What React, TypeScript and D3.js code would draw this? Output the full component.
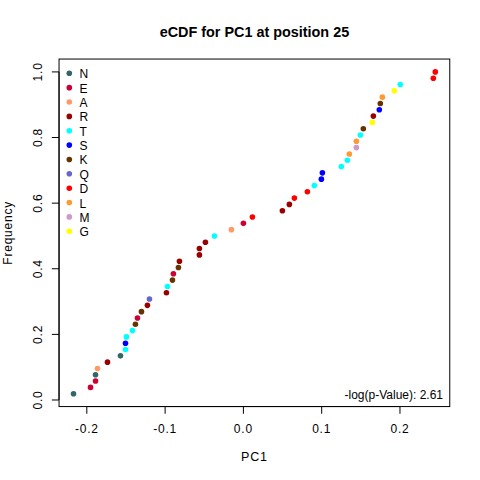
import React from 'react';
import * as d3 from 'd3';

// residues and colours used in the legend
const aaLetters = ['N', 'E', 'A', 'R', 'T', 'S', 'K', 'Q', 'D', 'L', 'M', 'G'];
const aaColors = ['#336666', '#CC0033', '#FF9966', '#990000', '#00FFFF', '#0000FF',
    '#663300', '#6666CC', '#FF0000', '#FF9933', '#CC99CC', '#FFFF00'];

// sorted PC1 values and the residue of each sample
const pcValues = [
    -0.217, -0.1953, -0.1889, -0.1889, -0.1864, -0.1736, -0.157, -0.1506, -0.1506, -0.1494,
    -0.1417, -0.1379, -0.1353, -0.1302, -0.1226, -0.12, -0.0983, -0.097, -0.0906, -0.0894,
    -0.083, -0.0817, -0.0562, -0.0562, -0.0485, -0.037, -0.0153, 0.0, 0.0115, 0.0498,
    0.0587, 0.0651, 0.0817, 0.0906, 0.0996, 0.1009, 0.1251, 0.1328, 0.1353, 0.1443,
    0.1443, 0.1494, 0.1532, 0.1647, 0.166, 0.1736, 0.1749, 0.1775, 0.1928, 0.2004,
    0.2426, 0.2451,
];
const residues = [
    'N', 'E', 'E', 'N', 'A', 'R', 'N', 'T', 'S', 'T',
    'T', 'K', 'E', 'K', 'R', 'Q', 'R', 'T', 'K', 'E',
    'K', 'R', 'R', 'R', 'R', 'T', 'A', 'E', 'D', 'R',
    'R', 'D', 'D', 'T', 'S', 'S', 'T', 'T', 'L', 'M',
    'L', 'T', 'K', 'G', 'R', 'S', 'K', 'L', 'G', 'T',
    'D', 'D',
];

const xTicks = [-0.2, -0.1, 0, 0.1, 0.2];
const xTickLabels = ['-0.2', '-0.1', '0.0', '0.1', '0.2'];
const yTicks = [0, 0.2, 0.4, 0.6, 0.8, 1.0];
const yTickLabels = ['0.0', '0.2', '0.4', '0.6', '0.8', '1.0'];

const pLabel = '-log(p-Value): 2.61';

const App: React.FC = () => {
    const width = 480;
    const height = 480;
    const margin = { top: 59.04, right: 30.24, bottom: 73.44, left: 59.04 };
    const font = '"Liberation Sans", Arial, sans-serif';

    const n = pcValues.length;
    const freq = pcValues.map((_, i) => (i + 1) / n);

    // R style 4% padding on both axes
    const pad = (lo: number, hi: number): [number, number] => {
        const r = hi - lo;
        return [lo - 0.04 * r, hi + 0.04 * r];
    };
    const xExt = d3.extent(pcValues) as [number, number];
    const yExt = d3.extent(freq) as [number, number];

    const x = d3.scaleLinear().domain(pad(xExt[0], xExt[1]))
        .range([margin.left, width - margin.right]);
    const y = d3.scaleLinear().domain(pad(yExt[0], yExt[1]))
        .range([height - margin.bottom, margin.top]);

    const color = d3.scaleOrdinal<string, string>().domain(aaLetters).range(aaColors);

    const left = margin.left;
    const right = width - margin.right;
    const top = margin.top;
    const bottom = height - margin.bottom;
    const tick = 7.2;
    const ls = 0.8; // windows png text runs a bit wider

    return (
        <svg width={width} height={height} style={{ position: 'absolute', left: 0, top: 0, background: '#fff' }}
            fontFamily={font}>
            <rect x={0} y={0} width={width} height={height} fill="#fff" />

            <text x={(left + right) / 2} y={37} textAnchor="middle" fontSize={14.4} fontWeight="bold">
                eCDF for PC1 at position 25
            </text>

            {/* x axis */}
            <line x1={x(xTicks[0])} x2={x(xTicks[xTicks.length - 1])} y1={bottom} y2={bottom} stroke="#000" />
            {xTicks.map((t, i) => (
                <g key={'xt' + i}>
                    <line x1={x(t)} x2={x(t)} y1={bottom} y2={bottom + tick} stroke="#000" />
                    <text x={x(t)} y={433} textAnchor="middle" fontSize={12} letterSpacing={ls}>{xTickLabels[i]}</text>
                </g>
            ))}
            <text x={(left + right) / 2} y={461} textAnchor="middle" fontSize={12.5} letterSpacing={ls}>PC1</text>

            {/* y axis */}
            <line x1={left} x2={left} y1={y(yTicks[0])} y2={y(yTicks[yTicks.length - 1])} stroke="#000" />
            {yTicks.map((t, i) => (
                <g key={'yt' + i}>
                    <line x1={left - tick} x2={left} y1={y(t)} y2={y(t)} stroke="#000" />
                    <text transform={`translate(42,${y(t)}) rotate(-90)`} textAnchor="middle" fontSize={12}
                        letterSpacing={ls}>
                        {yTickLabels[i]}
                    </text>
                </g>
            ))}
            <text transform={`translate(12,${(top + bottom) / 2}) rotate(-90)`} textAnchor="middle" fontSize={12}
                letterSpacing={ls}>
                Frequency
            </text>

            <rect x={left} y={top} width={right - left} height={bottom - top} fill="none" stroke="#000" />

            {/* points */}
            {pcValues.map((v, i) => (
                <circle key={'p' + i} cx={x(v)} cy={y(freq[i])} r={2.8} fill={color(residues[i])} />
            ))}

            {/* legend */}
            {aaLetters.map((a, i) => (
                <g key={'lg' + a}>
                    <circle cx={69.3} cy={73.3 + i * 14.36} r={2.8} fill={aaColors[i]} />
                    <text x={79.5} y={73.3 + i * 14.36 + 5} fontSize={12}>{a}</text>
                </g>
            ))}

            <text x={443} y={398.5} textAnchor="end" fontSize={12}>{pLabel}</text>
        </svg>
    );
};

export default App;
